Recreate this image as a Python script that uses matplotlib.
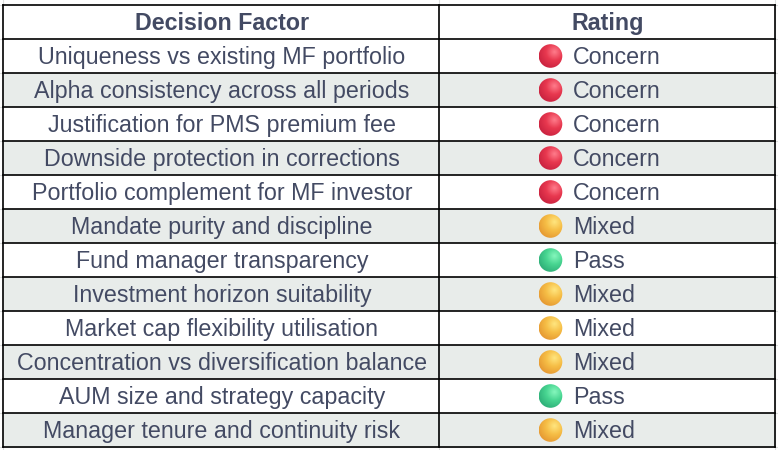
import numpy as np
import matplotlib
matplotlib.use("Agg")
import matplotlib.pyplot as plt
from matplotlib.patches import Circle, Rectangle

plt.rcParams['font.family'] = ['Liberation Sans', 'DejaVu Sans']

# table content
headers = ["Decision Factor", "Rating"]
factors = [
    "Uniqueness vs existing MF portfolio",
    "Alpha consistency across all periods",
    "Justification for PMS premium fee",
    "Downside protection in corrections",
    "Portfolio complement for MF investor",
    "Mandate purity and discipline",
    "Fund manager transparency",
    "Investment horizon suitability",
    "Market cap flexibility utilisation",
    "Concentration vs diversification balance",
    "AUM size and strategy capacity",
    "Manager tenure and continuity risk",
]
ratings = ["Concern", "Concern", "Concern", "Concern", "Concern",
           "Mixed", "Pass", "Mixed", "Mixed", "Mixed", "Pass", "Mixed"]

# ball colours: (highlight, base, shadow)
ball_colors = {
    "Concern": ("#ff7d8c", "#e8384f", "#c41f3d"),
    "Mixed": ("#ffe680", "#f6be46", "#e3932f"),
    "Pass": ("#86f7bd", "#48d591", "#2aa874"),
}

# layout in pixels
W, H = 778, 450
x_left, x_mid, x_right = 3.5, 439.5, 775.0
y_top, head_h, row_h = 4.5, 34.0, 34.0
text_color = "#434a63"
stripe = "#e8ecea"
grid_gray = "#dcdedd"
fs = 16.75


def hex_rgb(c):
    c = c.lstrip("#")
    return np.array([int(c[i:i + 2], 16) / 255 for i in (0, 2, 4)])


def draw_ball(ax, cx, cy, r, cols):
    hi, base, lo = (hex_rgb(c) for c in cols)
    n = 64
    xs = np.linspace(-1, 1, n)
    gx, gy = np.meshgrid(xs, xs)
    # light from upper right (gy grows downward in the image)
    d = np.hypot(gx - 0.3, gy + 0.35) / 1.6
    d = np.clip(d, 0, 1)
    t1 = np.clip(d / 0.45, 0, 1)[..., None]
    t2 = np.clip((d - 0.45) / 0.55, 0, 1)[..., None]
    img = np.where(d[..., None] < 0.45, hi * (1 - t1) + base * t1, base * (1 - t2) + lo * t2)
    im = ax.imshow(img, extent=(cx - r, cx + r, cy + r, cy - r), zorder=4,
                   interpolation="bilinear")
    clip = Circle((cx, cy), r, transform=ax.transData)
    im.set_clip_path(clip)


fig = plt.figure(figsize=(W / 100, H / 100), dpi=100)
ax = fig.add_axes([0, 0, 1, 1])
ax.set_xlim(0, W)
ax.set_ylim(H, 0)
ax.axis("off")

n_rows = len(factors)
row_edges = [y_top, y_top + head_h] + [y_top + head_h + row_h * (i + 1) for i in range(n_rows)]
y_bottom = row_edges[-1]

# faint spreadsheet gridlines behind the table
for y in row_edges:
    ax.plot([0, W], [y, y], color=grid_gray, lw=0.8, zorder=0)
for x in (x_left, x_mid, x_right):
    ax.plot([x, x], [0, H], color=grid_gray, lw=0.8, zorder=0)

# striped rows
ax.add_patch(Rectangle((x_left, y_top), x_right - x_left, y_bottom - y_top,
                       facecolor="white", edgecolor="none", zorder=1))
for i in range(n_rows):
    if i % 2 == 1:
        ax.add_patch(Rectangle((x_left, row_edges[i + 1]), x_right - x_left, row_h,
                               facecolor=stripe, edgecolor="none", zorder=1))

# table borders
for y in row_edges:
    ax.plot([x_left, x_right], [y, y], color="black", lw=1.2, zorder=3,
            solid_capstyle="projecting")
for x in (x_left, x_mid, x_right):
    ax.plot([x, x], [y_top, y_bottom], color="black", lw=1.2, zorder=3,
            solid_capstyle="projecting")

cap = 0.716 * fs * 100 / 72
col1_c = (x_left + x_mid) / 2 + 0.5
col2_c = (x_mid + x_right) / 2 + 1
head_base = y_top + head_h / 2 + cap / 2 + 0.5
ax.text(col1_c, head_base, headers[0], ha="center", va="baseline", fontsize=fs,
        fontweight="bold", color=text_color, zorder=5)
ax.text(col2_c, head_base, headers[1], ha="center", va="baseline", fontsize=fs,
        fontweight="bold", color=text_color, zorder=5)

ball_x, ball_r, label_x = 550.5, 11.8, 573
for i, (factor, rating) in enumerate(zip(factors, ratings)):
    yc = row_edges[i + 1] + row_h / 2
    ax.text(col1_c, yc + cap / 2 + 0.5, factor, ha="center", va="baseline", fontsize=fs,
            color=text_color, zorder=5)
    draw_ball(ax, ball_x, yc + 0.5, ball_r, ball_colors[rating])
    ax.text(label_x, yc + cap / 2 + 0.5, rating, ha="left", va="baseline", fontsize=fs,
            color=text_color, zorder=5)

fig.savefig("out.png", dpi=100)
